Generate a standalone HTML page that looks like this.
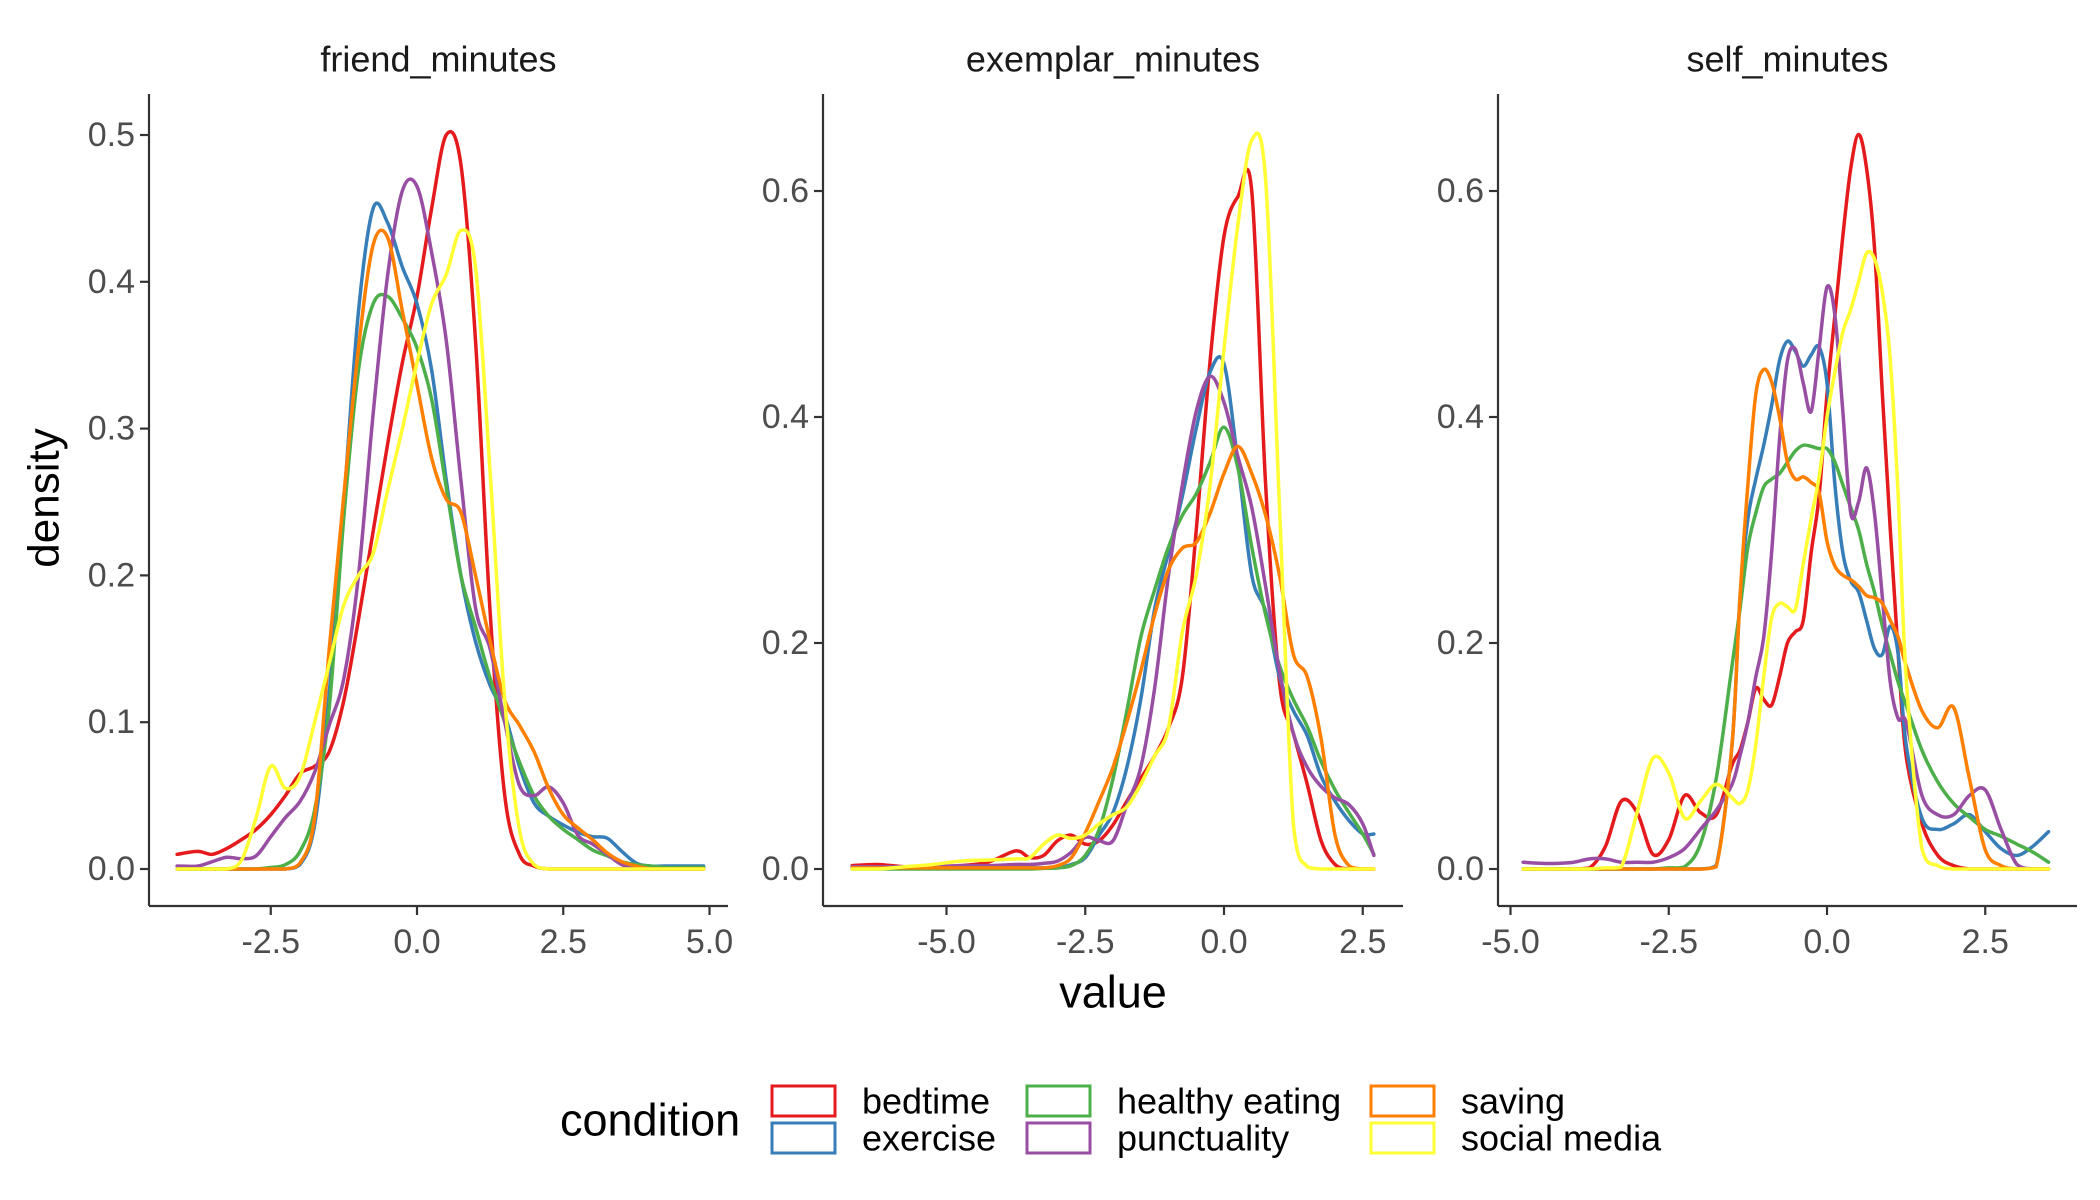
<!DOCTYPE html>
<html><head><meta charset="utf-8"><title>density by condition</title>
<style>
html,body{margin:0;padding:0;background:#fff;}
svg{display:block;font-family:"Liberation Sans",Arial,sans-serif;}
</style></head>
<body>
<svg id="chart" width="2100" height="1200" viewBox="0 0 2100 1200" xmlns="http://www.w3.org/2000/svg">
<rect width="2100" height="1200" fill="#fff"/>
<g id="panels"></g>
<text x="44" y="498" transform="rotate(-90 44 498)" text-anchor="middle" dominant-baseline="central" font-size="44" fill="#000">density</text>
<text x="1113" y="992" text-anchor="middle" dominant-baseline="central" font-size="45" fill="#000">value</text>
<g id="legend">
<text x="560" y="1120" dominant-baseline="central" font-size="45" fill="#000">condition</text>
</g>
</svg>
<script>
const conditions = ["bedtime","exercise","healthy eating","punctuality","saving","social media"];
const colors = ["#E41A1C","#377EB8","#4DAF4A","#984EA3","#FF7F00","#FFFF33"];
const panelTitles = ["friend_minutes","exemplar_minutes","self_minutes"];

const p1X = [-4.1,-3.75,-3.5,-3.25,-3,-2.75,-2.5,-2.25,-2,-1.75,-1.5,-1.25,-1,-0.75,-0.5,-0.25,0,0.25,0.5,0.75,1,1.25,1.5,1.75,2,2.25,2.5,2.75,3,3.25,3.5,3.75,4,4.25,4.5,4.9];
const p1Bedtime = [0.01,0.012,0.01,0.014,0.02,0.027,0.037,0.05,0.065,0.07,0.08,0.115,0.17,0.23,0.29,0.345,0.39,0.45,0.5,0.48,0.36,0.175,0.05,0.01,0.002,0,0,0,0,0,0,0,0,0,0,0];
const p1Exercise = [0,0,0,0,0,0,0,0,0.003,0.03,0.12,0.25,0.38,0.45,0.44,0.41,0.385,0.34,0.265,0.2,0.155,0.125,0.105,0.07,0.045,0.036,0.03,0.025,0.022,0.021,0.012,0.004,0.002,0.002,0.002,0.002];
const p1Healthy = [0,0,0,0,0,0,0.001,0.003,0.012,0.04,0.11,0.24,0.34,0.385,0.39,0.375,0.355,0.32,0.26,0.2,0.165,0.13,0.1,0.073,0.05,0.036,0.027,0.02,0.013,0.009,0.005,0.003,0.002,0.001,0.001,0.001];
const p1Punctuality = [0.002,0.002,0.005,0.008,0.007,0.009,0.022,0.035,0.046,0.066,0.098,0.13,0.2,0.31,0.405,0.462,0.465,0.42,0.36,0.265,0.178,0.15,0.1,0.057,0.05,0.056,0.045,0.023,0.017,0.01,0.003,0.001,0,0,0,0];
const p1Saving = [0,0,0,0,0,0,0,0,0.004,0.035,0.15,0.255,0.355,0.425,0.43,0.38,0.33,0.28,0.252,0.243,0.2,0.155,0.115,0.098,0.08,0.055,0.037,0.028,0.02,0.011,0.005,0.002,0,0,0,0];
const p1Social = [0,0,0,0,0.006,0.035,0.07,0.055,0.063,0.1,0.14,0.18,0.2,0.215,0.258,0.3,0.345,0.385,0.405,0.435,0.41,0.27,0.115,0.027,0.003,0,0,0,0,0,0,0,0,0,0,0];

const p2X = [-6.7,-6.25,-5.75,-5.25,-4.75,-4.25,-3.75,-3.5,-3.25,-3,-2.75,-2.5,-2.25,-2,-1.75,-1.5,-1.25,-1,-0.75,-0.5,-0.25,0,0.25,0.5,0.75,1,1.25,1.5,1.75,2,2.25,2.5,2.7];
const p2Bedtime = [0.003,0.004,0.002,0.002,0.003,0.006,0.016,0.01,0.012,0.025,0.03,0.022,0.025,0.039,0.06,0.08,0.1,0.125,0.17,0.3,0.45,0.56,0.595,0.6,0.34,0.165,0.12,0.075,0.025,0.004,0,0,0];
const p2Exercise = [0.001,0.001,0.001,0.001,0.001,0.001,0.001,0.001,0.001,0.001,0.004,0.01,0.03,0.05,0.09,0.15,0.23,0.28,0.33,0.39,0.44,0.447,0.36,0.26,0.228,0.17,0.14,0.118,0.082,0.06,0.043,0.031,0.031];
const p2Healthy = [0,0,0,0,0,0,0,0,0.0005,0.001,0.003,0.012,0.035,0.08,0.14,0.205,0.247,0.285,0.313,0.332,0.36,0.391,0.355,0.285,0.225,0.18,0.15,0.126,0.095,0.07,0.05,0.031,0.013];
const p2Punctuality = [0.002,0.002,0.002,0.002,0.003,0.003,0.004,0.004,0.005,0.007,0.015,0.028,0.025,0.025,0.057,0.09,0.16,0.26,0.34,0.405,0.436,0.413,0.365,0.32,0.25,0.175,0.12,0.09,0.073,0.063,0.057,0.04,0.012];
const p2Saving = [0.001,0.001,0.001,0.001,0.001,0.001,0.001,0.001,0.001,0.003,0.01,0.032,0.06,0.09,0.13,0.175,0.225,0.265,0.284,0.289,0.315,0.35,0.374,0.35,0.313,0.26,0.19,0.17,0.115,0.03,0.003,0,0];
const p2Social = [0,0,0.002,0.004,0.007,0.008,0.009,0.01,0.022,0.03,0.027,0.03,0.04,0.048,0.055,0.075,0.1,0.125,0.21,0.26,0.34,0.46,0.57,0.645,0.61,0.32,0.04,0.002,0,0,0,0,0];

const p3X = [-4.8,-4.5,-4.25,-4,-3.75,-3.5,-3.25,-3,-2.75,-2.5,-2.25,-2,-1.75,-1.5,-1.375,-1.25,-1.125,-1,-0.875,-0.75,-0.625,-0.5,-0.375,-0.25,-0.125,0,0.125,0.25,0.375,0.5,0.625,0.75,0.875,1,1.125,1.25,1.5,1.75,2,2.25,2.5,2.75,3,3.25,3.5];
const p3Bedtime = [0,0,0,0,0.001,0.02,0.06,0.05,0.013,0.026,0.065,0.05,0.048,0.092,0.105,0.13,0.16,0.15,0.145,0.17,0.2,0.21,0.22,0.28,0.33,0.42,0.49,0.56,0.62,0.65,0.62,0.55,0.42,0.3,0.19,0.1,0.04,0.012,0.003,0,0,0,0,0,0];
const p3Exercise = [0,0,0,0,0,0,0,0,0,0,0,0,0.003,0.11,0.24,0.31,0.345,0.375,0.41,0.45,0.467,0.458,0.445,0.455,0.462,0.43,0.34,0.28,0.255,0.245,0.22,0.195,0.19,0.215,0.19,0.11,0.045,0.035,0.04,0.048,0.033,0.018,0.012,0.02,0.033];
const p3Healthy = [0,0,0,0,0,0,0,0,0,0.001,0.002,0.022,0.08,0.18,0.23,0.285,0.315,0.338,0.345,0.35,0.36,0.37,0.375,0.374,0.372,0.372,0.36,0.34,0.32,0.3,0.27,0.245,0.215,0.19,0.165,0.145,0.105,0.077,0.058,0.046,0.035,0.029,0.022,0.015,0.006];
const p3Punctuality = [0.006,0.005,0.005,0.006,0.009,0.009,0.006,0.006,0.006,0.01,0.018,0.035,0.052,0.075,0.1,0.13,0.17,0.205,0.28,0.38,0.45,0.46,0.43,0.405,0.46,0.515,0.49,0.405,0.315,0.325,0.355,0.315,0.24,0.165,0.133,0.13,0.065,0.048,0.048,0.065,0.07,0.035,0.004,0,0];
const p3Saving = [0,0,0,0,0,0,0,0,0,0,0,0,0.002,0.11,0.24,0.34,0.42,0.442,0.431,0.4,0.36,0.345,0.347,0.342,0.333,0.29,0.268,0.26,0.256,0.25,0.242,0.24,0.235,0.22,0.205,0.18,0.14,0.125,0.143,0.08,0.017,0.003,0,0,0];
const p3Social = [0,0,0,0,0,0.001,0.002,0.05,0.098,0.085,0.045,0.06,0.075,0.063,0.058,0.07,0.11,0.17,0.222,0.235,0.232,0.23,0.27,0.31,0.347,0.4,0.44,0.475,0.495,0.52,0.545,0.54,0.51,0.45,0.33,0.17,0.018,0.003,0,0,0,0,0,0,0];

const p1XTicks = [-2.5,0,2.5,5];
const p1XTickLabels = ["-2.5","0.0","2.5","5.0"];
const p23XTicks = [-5,-2.5,0,2.5];
const p23XTickLabels = ["-5.0","-2.5","0.0","2.5"];
const p1YTicks = [0,0.1,0.2,0.3,0.4,0.5];
const p1YTickLabels = ["0.0","0.1","0.2","0.3","0.4","0.5"];
const p23YTicks = [0,0.2,0.4,0.6];
const p23YTickLabels = ["0.0","0.2","0.4","0.6"];

const NS = "http://www.w3.org/2000/svg";
function mk(tag, attrs, parent){
  const e = document.createElementNS(NS, tag);
  for (const k in attrs) e.setAttribute(k, attrs[k]);
  parent.appendChild(e);
  return e;
}
function linScale(d0, d1, r0, r1){ return v => r0 + (v - d0) * (r1 - r0) / (d1 - d0); }
const BASE = 869;
function smoothPath(pts){
  let d = "M" + pts[0][0].toFixed(2) + "," + pts[0][1].toFixed(2);
  for (let i = 0; i < pts.length - 1; i++){
    const p0 = pts[i-1] || pts[i], p1 = pts[i], p2 = pts[i+1], p3 = pts[i+2] || p2;
    const c1x = p1[0] + (p2[0]-p0[0])/6, c1y = Math.min(p1[1] + (p2[1]-p0[1])/6, BASE);
    const c2x = p2[0] - (p3[0]-p1[0])/6, c2y = Math.min(p2[1] - (p3[1]-p1[1])/6, BASE);
    d += "C" + c1x.toFixed(2)+","+c1y.toFixed(2)+" "+c2x.toFixed(2)+","+c2y.toFixed(2)+" "+p2[0].toFixed(2)+","+p2[1].toFixed(2);
  }
  return d;
}
const panels = [
  {title: panelTitles[0], left:149, right:728, xs:p1X, series:[p1Bedtime,p1Exercise,p1Healthy,p1Punctuality,p1Saving,p1Social],
   x: linScale(0, 1, 417, 475.5), y: linScale(0, 0.5, 869, 135), xt:p1XTicks, xl:p1XTickLabels, yt:p1YTicks, yl:p1YTickLabels},
  {title: panelTitles[1], left:823, right:1403, xs:p2X, series:[p2Bedtime,p2Exercise,p2Healthy,p2Punctuality,p2Saving,p2Social],
   x: linScale(0, 1, 1224, 1279.5), y: linScale(0, 0.6, 869, 191), xt:p23XTicks, xl:p23XTickLabels, yt:p23YTicks, yl:p23YTickLabels},
  {title: panelTitles[2], left:1498, right:2077, xs:p3X, series:[p3Bedtime,p3Exercise,p3Healthy,p3Punctuality,p3Saving,p3Social],
   x: linScale(0, 1, 1827, 1890.3), y: linScale(0, 0.6, 869, 191), xt:p23XTicks, xl:p23XTickLabels, yt:p23YTicks, yl:p23YTickLabels}
];
const root = document.getElementById("panels");
const TOP = 94, BOTTOM = 906;
panels.forEach((p, pi) => {
  const g = mk("g", {}, root);
  
  
  const t = mk("text", {x:(p.left+p.right)/2, y:59, "text-anchor":"middle", "dominant-baseline":"central", "font-size":36, fill:"#1a1a1a"}, g);
  t.textContent = p.title;
  
  
  const lines = mk("g", {fill:"none", "stroke-width":3.5, "stroke-linejoin":"round", "stroke-linecap":"round"}, g);
  
  
  p.series.forEach((vals, si) => {
    const pts = p.xs.map((xv, i) => [p.x(xv), p.y(vals[i])]);
    const path = mk("path", {d: smoothPath(pts), stroke: colors[si]}, lines);
    
    
  });
  const ax = mk("g", {stroke:"#333", "stroke-width":2.2}, g);
  
  
  const yl = mk("line", {x1:p.left, y1:TOP, x2:p.left, y2:BOTTOM}, ax);
  
  
  const xl = mk("line", {x1:p.left, y1:BOTTOM, x2:p.right, y2:BOTTOM}, ax);
  
  
  p.yt.forEach((v, i) => {
    const yy = p.y(v);
    const tk = mk("line", {x1:p.left-9, y1:yy, x2:p.left, y2:yy}, ax);
    
    
    const lb = mk("text", {x:p.left-14, y:yy, "text-anchor":"end", "dominant-baseline":"central", "font-size":34, fill:"#4d4d4d", stroke:"none"}, g);
    lb.textContent = p.yl[i];
    
    
  });
  p.xt.forEach((v, i) => {
    const xx = p.x(v);
    const tk = mk("line", {x1:xx, y1:BOTTOM, x2:xx, y2:BOTTOM+9}, ax);
    
    
    const lb = mk("text", {x:xx, y:942, "text-anchor":"middle", "dominant-baseline":"central", "font-size":34, fill:"#4d4d4d", stroke:"none"}, g);
    lb.textContent = p.xl[i];
    
    
  });
});
const leg = document.getElementById("legend");
const colX = [770, 1025, 1369];
const rowY = [1101, 1138];
conditions.forEach((c, i) => {
  const col = Math.floor(i / 2), row = i % 2;
  const g = mk("g", {}, leg);
  
  
  const r = mk("rect", {x:colX[col]+2, y:rowY[row]-15, width:63, height:30, fill:"none", stroke:colors[i], "stroke-width":3}, g);
  
  
  const t = mk("text", {x:colX[col]+92, y:rowY[row], "dominant-baseline":"central", "font-size":36, fill:"#000"}, g);
  t.textContent = c;
  
  
});
</script>
</body></html>
